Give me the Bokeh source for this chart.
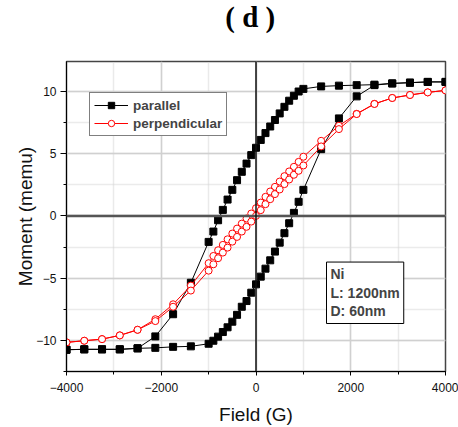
from bokeh.plotting import figure
from bokeh.models import SingleIntervalTicker, Span, Label, Range1d
from bokeh.layouts import column
from bokeh.embed import file_html
from bokeh.resources import INLINE

# ---- data ----
field_desc = [4000, 3625, 3250, 2875, 2500, 2125, 1750, 1375, 1000, 900, 800, 700, 600, 500, 400, 300,
              200, 100, 0, -100, -200, -300, -400, -500, -600, -700, -800, -900, -1000, -1375, -1750,
              -2125, -2500, -2875, -3250, -3625, -4000]
field_asc = field_desc[::-1]

parallel_desc = [10.76, 10.76, 10.70, 10.64, 10.54, 10.50, 10.46, 10.40, 10.20, 9.99, 9.65, 9.25, 8.76,
                 8.23, 7.70, 7.18, 6.65, 6.10, 5.47, 4.88, 4.20, 3.54, 2.87, 2.09, 1.31, 0.48, -0.35,
                 -1.26, -2.09, -5.37, -7.90, -9.68, -10.64, -10.72, -10.72, -10.72, -10.75]
parallel_asc = [-10.75, -10.72, -10.72, -10.72, -10.64, -10.60, -10.52, -10.48, -10.27, -10.03, -9.70,
                -9.33, -8.95, -8.50, -7.95, -7.30, -6.84, -6.17, -5.50, -4.88, -4.24, -3.57, -2.87,
                -2.15, -1.39, -0.59, 0.24, 1.13, 2.09, 5.36, 7.83, 9.60, 10.50, 10.64, 10.70, 10.76, 10.76]

perp_desc = [10.08, 9.92, 9.71, 9.47, 9.00, 8.20, 7.24, 6.03, 4.75, 4.34, 3.94, 3.57, 3.19, 2.76, 2.33,
             1.96, 1.53, 1.07, 0.62, 0.19, -0.21, -0.62, -1.02, -1.42, -1.88, -2.33, -2.76, -3.22,
             -3.80, -5.60, -7.10, -8.30, -9.15, -9.60, -9.90, -10.03, -10.16]
perp_asc = [-10.16, -10.03, -9.90, -9.60, -9.15, -8.45, -7.30, -6.00, -4.40, -3.89, -3.40, -2.95, -2.55,
            -2.07, -1.69, -1.26, -0.88, -0.46, 0.00, 0.46, 0.94, 1.34, 1.75, 2.12, 2.55, 2.92, 3.30,
            3.62, 4.05, 5.58, 6.97, 8.18, 8.99, 9.47, 9.71, 9.92, 10.08]

series_names = ["parallel", "perpendicular"]
title_text = "( d )"
x_label = "Field (G)"
y_label = "Moment (memu)"
info_text = "Ni\nL: 1200nm\nD: 60nm"

par_x = field_desc + field_asc
par_y = parallel_desc + parallel_asc
perp_x = field_desc + field_asc
perp_y = perp_desc + perp_asc

# ---- title strip (its own small figure so the text is never clipped) ----
pt = figure(width=458, height=40, output_backend="svg", toolbar_location=None,
            x_range=Range1d(0, 458), y_range=Range1d(0, 40),
            x_axis_location=None, y_axis_location=None,
            min_border_left=0, min_border_right=0, min_border_top=0, min_border_bottom=0)
pt.grid.visible = False
pt.outline_line_color = None
pt.background_fill_color = "white"
pt.border_fill_color = "white"
pt.title.text = ""
pt.title.standoff = 0
pt.add_layout(Label(x=222, y=24, text=title_text,
                    text_font="Liberation Serif", text_font_style="bold", text_font_size="29px",
                    text_color="black", text_align="center", text_baseline="middle"))

# ---- main plot ----
p = figure(width=458, height=387, output_backend="svg", toolbar_location=None,
           x_range=Range1d(-4000, 4000), y_range=Range1d(-12.5, 12.4),
           min_border_left=66, min_border_right=13, min_border_top=21, min_border_bottom=56)

p.title.text = ""
p.title.standoff = 0

p.outline_line_color = "#444444"
p.outline_line_width = 1.5
p.background_fill_color = "white"
p.border_fill_color = "white"

p.xaxis.ticker = SingleIntervalTicker(interval=2000, num_minor_ticks=2)
p.yaxis.ticker = SingleIntervalTicker(interval=5, num_minor_ticks=2)

for ax in (p.xaxis[0], p.yaxis[0]):
    ax.axis_line_color = "black"
    ax.axis_line_width = 1
    ax.major_tick_line_color = "black"
    ax.minor_tick_line_color = "black"
    ax.major_tick_in = 0
    ax.minor_tick_in = 0
    ax.major_label_text_font = "Liberation Sans"
    ax.major_label_text_font_size = "12px"
    ax.major_label_text_color = "#111111"
    ax.axis_label_text_font = "Liberation Sans"
    ax.axis_label_text_font_size = "19px"
    ax.axis_label_text_font_style = "normal"
    ax.axis_label_text_color = "#111111"

p.xaxis.major_tick_out = 4
p.xaxis.minor_tick_out = 3
p.yaxis.major_tick_out = 6
p.yaxis.minor_tick_out = 3
p.xaxis.major_label_standoff = 7
p.yaxis.major_label_standoff = 4
p.xaxis.axis_label = x_label
p.yaxis.axis_label = y_label
p.xaxis.axis_label_standoff = 9
p.yaxis.axis_label_standoff = -3

for g in (p.xgrid[0], p.ygrid[0]):
    g.grid_line_color = "#d0d0d0"
    g.grid_line_width = 1.5
    g.minor_grid_line_color = "#d6d6d6"
    g.minor_grid_line_width = 1.5
    g.minor_grid_line_dash = "1 1"

p.add_layout(Span(location=0, dimension="width", line_color="#555555", line_width=2.5))
p.add_layout(Span(location=0, dimension="height", line_color="#111111", line_width=1.5))

# parallel
p.line(par_x, par_y, line_color="black", line_width=1, legend_label=series_names[0])
p.scatter(par_x, par_y, marker="square", size=7, fill_color="black", line_color="black",
          legend_label=series_names[0])
# perpendicular
p.line(perp_x, perp_y, line_color="red", line_width=1, legend_label=series_names[1])
p.scatter(perp_x, perp_y, marker="circle", size=7, fill_color="white", line_color="red",
          line_width=1, legend_label=series_names[1])

lg = p.legend[0]
lg.location = (23, 235)
lg.border_line_color = "black"
lg.border_line_width = 1
lg.background_fill_alpha = 1
lg.label_text_font = "Liberation Sans"
lg.label_text_font_style = "bold"
lg.label_text_font_size = "13.5px"
lg.glyph_width = 34
lg.glyph_height = 16
lg.label_height = 16
lg.label_standoff = 5
lg.padding = 4
lg.spacing = 2
lg.margin = 0

info = Label(x=260, y=48, x_units="screen", y_units="screen", text=info_text,
             text_font="Liberation Sans", text_font_style="bold", text_font_size="14px",
             text_align="left", text_baseline="bottom", text_line_height=1.17,
             border_line_color="black", border_line_width=1, background_fill_color="white",
             padding=4)
p.add_layout(info)

layout = column(pt, p, spacing=0)
open("out.html", "w").write(file_html(layout, INLINE))
